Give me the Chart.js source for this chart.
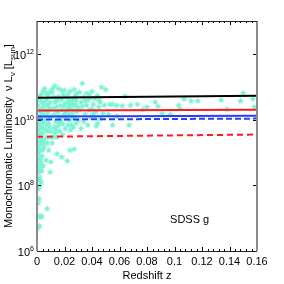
<!DOCTYPE html>
<html>
<head>
<meta charset="utf-8">
<script src="https://cdn.jsdelivr.net/npm/chart.js@4.4.0/dist/chart.umd.min.js"></script>
<style>
  html, body { margin: 0; padding: 0; background: #fff; }
</style>
</head>
<body>
<canvas id="lumChart" width="284" height="284"></canvas>
<script>
// ========== DATA ==========

// galaxy sample, redshift and nu L_nu in L_sun
const redshift = [
    0.0005, 0.0012, 0.0018, 0.0022, 0.0028, 0.0035, 0.0010, 0.0015, 0.0008, 0.0022,
    0.0015, 0.0010, 0.0025, 0.0032, 0.0006, 0.0026, 0.0036, 0.0012, 0.0020, 0.0030,
    0.0016, 0.0038, 0.0010, 0.0026, 0.0042, 0.0014, 0.0030, 0.0020, 0.0008, 0.0036,
    0.0024, 0.0014, 0.0030, 0.0020, 0.0040, 0.0010, 0.0034, 0.0024, 0.0016, 0.0030,
    0.0044, 0.0020, 0.0028, 0.0012, 0.0040, 0.0006, 0.0034, 0.0018, 0.0008, 0.0030,
    0.0073, 0.0026, 0.0046, 0.0018,
    0.0050, 0.0060, 0.0070, 0.0080, 0.0090, 0.0050, 0.0060, 0.0070, 0.0080, 0.0090,
    0.0050, 0.0060, 0.0070, 0.0080, 0.0090, 0.0055, 0.0065, 0.0045, 0.0075, 0.0085,
    0.0095, 0.0045, 0.0065, 0.0085, 0.0095, 0.0055, 0.0075, 0.0095, 0.0045, 0.0065,
    0.0085, 0.0075, 0.0095, 0.0100,
    0.011, 0.012, 0.013, 0.014, 0.015, 0.016, 0.017, 0.018, 0.019, 0.020,
    0.021, 0.022, 0.023, 0.024, 0.025, 0.026, 0.027, 0.028, 0.029,
    0.011, 0.012, 0.013, 0.014, 0.015, 0.016, 0.017, 0.018, 0.019, 0.020,
    0.021, 0.022, 0.023, 0.024, 0.025, 0.026, 0.027, 0.028, 0.029,
    0.0105, 0.0115, 0.0125, 0.0135, 0.0145, 0.0155, 0.0165, 0.0175, 0.0185, 0.0195,
    0.0205, 0.0215, 0.0225, 0.0235, 0.0245, 0.0255, 0.0265, 0.0275, 0.0285, 0.0295,
    0.0105, 0.0125, 0.0145, 0.0165, 0.0185, 0.0205, 0.0225, 0.0245, 0.0265, 0.0285,
    0.0112, 0.0130, 0.0180, 0.0155, 0.0240, 0.0270,
    0.0145, 0.0180, 0.0240, 0.0270, 0.0220,
    0.031, 0.032, 0.033, 0.034, 0.035, 0.036, 0.037, 0.038, 0.039, 0.040,
    0.041, 0.042, 0.043, 0.044, 0.045, 0.046, 0.047, 0.048, 0.049, 0.050,
    0.031, 0.034, 0.036, 0.038, 0.040, 0.042, 0.044, 0.046, 0.033, 0.035,
    0.039, 0.041, 0.043, 0.045, 0.030, 0.032, 0.037,
    0.052, 0.053, 0.055, 0.055, 0.058, 0.058, 0.062, 0.064, 0.067, 0.068,
    0.073, 0.077, 0.080, 0.086, 0.088, 0.091, 0.097, 0.103, 0.104, 0.107,
    0.112, 0.117, 0.134, 0.138, 0.148, 0.150, 0.157, 0.158
];
const luminosity = [
    5e6, 1.2e7, 6e6, 1.1e7, 1.2e7, 1.15e7, 3e7, 4e7, 8e7, 1e8,
    1.5e8, 2.5e8, 3e8, 4e8, 5e8, 6e8, 8e8, 1e9, 1.3e9, 1.8e9,
    2.2e9, 2.5e9, 3e9, 3.5e9, 4e9, 5e9, 6e9, 7e9, 8e9, 9e9,
    1.1e10, 1.3e10, 1.6e10, 2e10, 2.4e10, 2.8e10, 3.5e10, 4.2e10, 5e10, 6e10,
    7.5e10, 1.8e8, 5e8, 6e8, 1.2e9, 1.6e9, 2.8e8, 7e8, 3.5e8, 1.3e8,
    2e7, 2e9, 5.5e9, 4e9,
    1.5e9, 2e9, 3e9, 4.5e9, 6e9, 8e9, 1e10, 1.4e10, 1.8e10, 2.3e10,
    3e10, 3.8e10, 4.5e10, 5.5e10, 7e10, 9e10, 6e8, 4e8, 2e9, 1.2e9,
    3e9, 2.5e9, 5e9, 8e9, 1.2e10, 2e10, 2.7e10, 3.5e10, 1.5e10, 6.5e10,
    3e10, 7e9, 2.6e8, 5.3e8,
    2e9, 3e9, 4e9, 5e9, 6.5e9, 8e9, 9.5e9, 1.1e10, 1.3e10, 1.5e10,
    1.8e10, 2.1e10, 2.5e10, 3e10, 3.5e10, 4e10, 4.8e10, 5.5e10, 6.5e10,
    7e10, 5e10, 3.5e10, 2.5e10, 1.8e10, 1.3e10, 2.8e10, 4.2e10, 6e10, 8e10,
    5e10, 3.5e10, 1.5e10, 1e10, 7e9, 1.2e10, 2e10, 3e10, 1.8e10,
    1.2e10, 2.2e10, 1.5e10, 9e9, 3.8e10, 5.2e10, 4.5e10, 2e10, 7.5e9, 2.6e10,
    3.2e10, 1.1e10, 6e10, 4e10, 2.2e10, 1.6e10, 2.8e10, 1.2e10, 4e10, 2.5e10,
    4.5e9, 6e9, 3e9, 4.5e9, 3.5e9, 5.5e9, 7e9, 5e9, 6e9, 8e9,
    9e10, 1.1e11, 8e10, 9e10, 7.5e10, 8.5e10,
    9.3e8, 7.5e8, 1.2e9, 1.3e9, 5.7e8,
    2e10, 3.5e10, 1.3e11, 5e10, 1.5e10, 2.8e10, 4e10, 6e10, 1.2e10, 2.2e10,
    3e10, 4.5e10, 1.8e10, 8e9, 2.5e10, 3.5e10, 1e11, 1.6e10, 2.8e10, 8.5e10,
    7e10, 9e9, 6.5e10, 2e10, 7.5e10, 1.3e10, 5.5e10, 1.1e10, 2.6e10, 3.8e10,
    4.8e10, 1.6e10, 6.5e9, 4e10, 1e10, 5.5e9, 7e9,
    1.5e10, 3e10, 3e10, 7e9, 2.8e10, 1.3e10, 2.7e10, 5.3e10, 7e9, 2.8e10,
    3e10, 2.1e10, 2.5e10, 3.5e10, 2.6e10, 1.6e10, 1.5e10, 2.8e10, 2.2e10, 4.4e10,
    3.8e10, 3.8e10, 4e10, 2.1e10, 3.8e10, 6.6e10, 4.4e10, 2.5e10
];

// model lines, values at z = 0 and z = 0.16
const lineRedshift = [0, 0.16];
const blackSolid = [4.6e10, 5.3e10];
const redSolid = [1.9e10, 2.0e10];
const blueSolid = [1.23e10, 1.3e10];
const blueDashed = [1.0e10, 1.07e10];
const redDashed = [3.0e9, 3.5e9];

// axes
const xTicks = [0, 0.02, 0.04, 0.06, 0.08, 0.1, 0.12, 0.14, 0.16];
const xMinorStep = 0.004;
const yTickExponents = [6, 8, 10, 12];
const yRange = [1e6, 1e13];

const panelLabel = 'SDSS g';
const panelLabelAt = [0.111, 8.7e6];


// ========== HELPERS ==========

function toPoints(xs, ys) {
    return xs.map((x, i) => ({ x: x, y: ys[i] }));
}

// small filled five-point star, used as the marker image
function starMarker(size, color) {
    const c = document.createElement('canvas');
    c.width = size;
    c.height = size;
    const g = c.getContext('2d');
    g.fillStyle = color;
    g.beginPath();
    for (let i = 0; i < 10; i++) {
        const r = (i % 2) ? size * 0.26 : size * 0.5;
        const a = -Math.PI / 2 + i * Math.PI / 5;
        const px = size / 2 + r * Math.cos(a);
        const py = size / 2 + 0.5 + r * Math.sin(a);
        if (i === 0) g.moveTo(px, py); else g.lineTo(px, py);
    }
    g.closePath();
    g.fill();
    return c;
}

function modelLine(values, color, dash) {
    return {
        data: toPoints(lineRedshift, values),
        showLine: true,
        borderColor: color,
        borderWidth: 2,
        borderDash: dash || [],
        pointRadius: 0,
        order: 0
    };
}

const NARROW = "'Liberation Sans Narrow', 'Liberation Sans', Arial, sans-serif";
const SANS = "'Liberation Sans', Arial, sans-serif";


// ========== FRAME / LABELS PLUGIN ==========

const framePlugin = {
    id: 'frame',
    afterDraw(chart) {
        const ctx = chart.ctx;
        const { left, right, top, bottom } = chart.chartArea;
        const xs = chart.scales.x;
        const ys = chart.scales.y;

        ctx.save();

        // inward ticks on x (bottom and top)
        ctx.strokeStyle = '#000';
        ctx.lineWidth = 1;
        const nMinor = Math.round(xs.max / xMinorStep);
        for (let i = 0; i <= nMinor; i++) {
            const px = Math.round(xs.getPixelForValue(i * xMinorStep)) + 0.5;
            const len = (i % 5 === 0) ? 4 : 2;
            ctx.beginPath();
            ctx.moveTo(px, bottom); ctx.lineTo(px, bottom - len);
            ctx.moveTo(px, top); ctx.lineTo(px, top + len);
            ctx.stroke();
        }

        // x tick labels
        ctx.fillStyle = '#000';
        ctx.font = '11px ' + NARROW;
        ctx.textAlign = 'center';
        ctx.textBaseline = 'alphabetic';
        xTicks.forEach(v => {
            ctx.fillText(String(v), xs.getPixelForValue(v), 265);
        });

        // inward ticks on y (left and right) + labels
        yTickExponents.forEach(e => {
            const py = Math.round(ys.getPixelForValue(Math.pow(10, e))) + 0.5;
            ctx.beginPath();
            ctx.moveTo(left, py); ctx.lineTo(left + 4, py);
            ctx.moveTo(right, py); ctx.lineTo(right - 4, py);
            ctx.stroke();

            const exp = String(e);
            ctx.textBaseline = 'alphabetic';
            ctx.font = '7px ' + NARROW;
            const ew = ctx.measureText(exp).width;
            ctx.textAlign = 'left';
            ctx.fillText(exp, left - 3 - ew, py - 1);
            ctx.font = '11px ' + NARROW;
            ctx.textAlign = 'right';
            ctx.fillText('10', left - 3 - ew, py + 4);
        });

        // box
        ctx.strokeStyle = '#8c8c8c';
        ctx.lineWidth = 2;
        ctx.beginPath();
        ctx.moveTo(left, top); ctx.lineTo(left, bottom);
        ctx.moveTo(right, top); ctx.lineTo(right, bottom);
        ctx.stroke();
        ctx.strokeStyle = '#222';
        ctx.lineWidth = 1;
        ctx.beginPath();
        ctx.moveTo(left, top + 0.5); ctx.lineTo(right, top + 0.5);
        ctx.moveTo(left, bottom + 0.5); ctx.lineTo(right, bottom + 0.5);
        ctx.stroke();

        // panel label
        ctx.fillStyle = '#000';
        ctx.font = '11px ' + NARROW;
        ctx.textAlign = 'center';
        ctx.textBaseline = 'middle';
        ctx.fillText(panelLabel, xs.getPixelForValue(panelLabelAt[0]), ys.getPixelForValue(panelLabelAt[1]));

        // x title
        ctx.fillText('Redshift z', (left + right) / 2, 276);

        // y title with subscripts
        const parts = [
            ['Monochromatic Luminosity  \u03bd L', false],
            ['\u03bd', true],
            [' [L', false],
            ['sun', true],
            [']', false]
        ];
        const mainFont = '11px ' + SANS;
        const subFont = '8px ' + SANS;
        let total = 0;
        parts.forEach(p => {
            ctx.font = p[1] ? subFont : mainFont;
            total += ctx.measureText(p[0]).width;
        });
        ctx.translate(12, (top + bottom) / 2);
        ctx.rotate(-Math.PI / 2);
        ctx.textAlign = 'left';
        ctx.textBaseline = 'alphabetic';
        let cx = -total / 2;
        parts.forEach(p => {
            ctx.font = p[1] ? subFont : mainFont;
            ctx.fillText(p[0], cx, p[1] ? 3 : 0);
            cx += ctx.measureText(p[0]).width;
        });

        ctx.restore();
    }
};


// ========== CHART ==========

const ctx = document.getElementById('lumChart');

window.lumChart = new Chart(ctx, {
    type: 'scatter',
    data: {
        datasets: [
            {
                data: toPoints(redshift, luminosity),
                pointStyle: starMarker(7, '#7af3d4'),
                pointRadius: 3.5,
                order: 1
            },
            modelLine(blackSolid, '#000000'),
            modelLine(redSolid, '#ff1a1a'),
            modelLine(blueSolid, '#2440ff'),
            modelLine(blueDashed, '#2440ff', [6, 3]),
            modelLine(redDashed, '#ff1a1a', [6, 4])
        ]
    },
    options: {
        responsive: false,
        animation: false,
        layout: { padding: { left: 0, top: 21, right: 27, bottom: 0 } },
        plugins: {
            legend: { display: false },
            tooltip: { enabled: false }
        },
        scales: {
            x: {
                type: 'linear',
                min: 0,
                max: 0.16,
                grid: { display: false },
                border: { display: false },
                ticks: { display: false },
                afterFit: s => { s.height = 33; }
            },
            y: {
                type: 'logarithmic',
                min: yRange[0],
                max: yRange[1],
                grid: { display: false },
                border: { display: false },
                ticks: { display: false },
                afterFit: s => { s.width = 37; }
            }
        }
    },
    plugins: [framePlugin]
});
</script>
</body>
</html>
